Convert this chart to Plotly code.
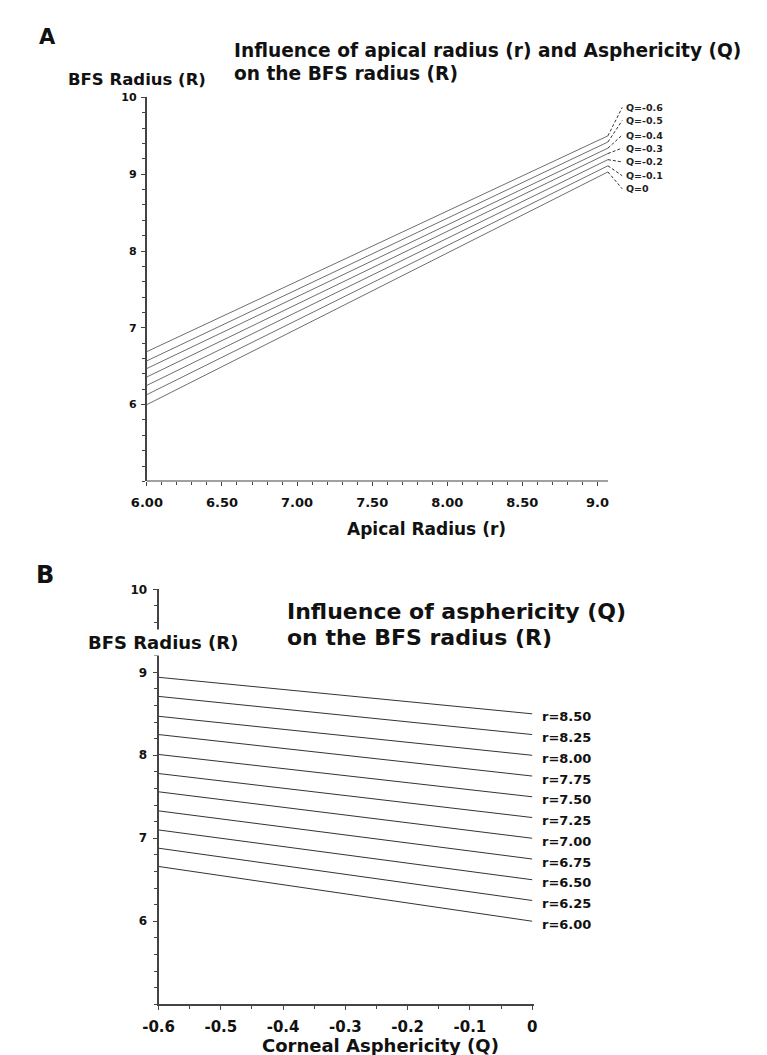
import plotly.graph_objects as go

# ---------------- data : panel A ----------------
apical_r_ends = [6.0, 9.07]
q_labels_A = ["Q=0", "Q=-0.1", "Q=-0.2", "Q=-0.3", "Q=-0.4", "Q=-0.5", "Q=-0.6"]
bfs_at_r6 = [6.00, 6.13, 6.25, 6.36, 6.47, 6.57, 6.69]
bfs_at_rend = [9.03, 9.11, 9.19, 9.27, 9.34, 9.42, 9.50]
xticks_A = [6.0, 6.5, 7.0, 7.5, 8.0, 8.5, 9.0]
xticktext_A = ["6.00", "6.50", "7.00", "7.50", "8.00", "8.50", "9.0"]
yticks_A = [6, 7, 8, 9, 10]

# ---------------- data : panel B ----------------
asph_q_ends = [-0.6, 0.0]
r_labels_B = ["r=8.50", "r=8.25", "r=8.00", "r=7.75", "r=7.50", "r=7.25",
              "r=7.00", "r=6.75", "r=6.50", "r=6.25", "r=6.00"]
bfs_at_qm06 = [8.94, 8.71, 8.47, 8.25, 8.01, 7.78, 7.56, 7.33, 7.10, 6.88, 6.66]
bfs_at_q0 = [8.50, 8.25, 8.00, 7.75, 7.50, 7.25, 7.00, 6.75, 6.50, 6.25, 6.00]
xticks_B = [-0.6, -0.5, -0.4, -0.3, -0.2, -0.1, 0.0]
xticktext_B = ["-0.6", "-0.5", "-0.4", "-0.3", "-0.2", "-0.1", "0"]
yticks_B = [6, 7, 8, 9, 10]

# ---------------- layout constants ----------------
W, H = 767, 1055
FONT = "DejaVu Sans"
# label anchor positions for panel A (data coords)
labA_x = 9.175
labA_y = [8.81, 8.98, 9.16, 9.34, 9.51, 9.70, 9.87]

def px_x(p):
    return p / W

def px_y(p):
    return 1 - p / H

fig = go.Figure()

# panel A lines
for lab, y0, y1 in zip(q_labels_A, bfs_at_r6, bfs_at_rend):
    fig.add_trace(go.Scatter(x=apical_r_ends, y=[y0, y1], mode="lines",
                             line=dict(color="#6e6e6e", width=1),
                             xaxis="x", yaxis="y", showlegend=False, name=lab,
                             hoverinfo="skip"))
# leader lines + labels panel A
for lab, y1, ly in zip(q_labels_A, bfs_at_rend, labA_y):
    fig.add_trace(go.Scatter(x=[apical_r_ends[-1], labA_x - 0.01], y=[y1, ly], mode="lines",
                             line=dict(color="#333", width=1, dash="3px,2px"),
                             xaxis="x", yaxis="y", showlegend=False, hoverinfo="skip"))
    fig.add_annotation(x=labA_x, y=ly, xref="x", yref="y", text=lab, showarrow=False,
                       xanchor="left", yanchor="middle",
                       font=dict(family=FONT, size=9.5, color="#222", weight="bold"))

# panel B lines
for lab, y0, y1 in zip(r_labels_B, bfs_at_qm06, bfs_at_q0):
    fig.add_trace(go.Scatter(x=asph_q_ends, y=[y0, y1], mode="lines",
                             line=dict(color="#333", width=1),
                             xaxis="x2", yaxis="y2", showlegend=False, name=lab,
                             hoverinfo="skip"))
    fig.add_annotation(x=1.015, y=y1, xref="x2 domain", yref="y2", text=lab, showarrow=False,
                       xanchor="left", yanchor="middle", yshift=-3,
                       font=dict(family=FONT, size=13, color="#111", weight="bold"))

# axis domains (pixels)
xA0, xA1 = 126, 126 + 3.3 * 154
yA_top, yA_bot = 83, 469.5
xB0, xB1 = 138, 523
yB_top, yB_bot = 578.2, 995.8

tickfontA_x = dict(family=FONT, size=13, color="#111", weight="bold")
tickfontA_y = dict(family=FONT, size=11, color="#111", weight="bold")

fig.update_layout(
    width=W, height=H, margin=dict(l=0, r=0, t=0, b=0),
    paper_bgcolor="white", plot_bgcolor="white", showlegend=False,
    xaxis=dict(domain=[px_x(xA0), px_x(xA1)], range=[6.0, 9.3], anchor="y",
               showline=False, showgrid=False, zeroline=False,
               tickmode="array", tickvals=xticks_A, ticktext=xticktext_A,
               ticks="outside", ticklen=4, tickwidth=1, tickcolor="#444",
               tickfont=tickfontA_x, ticklabelstandoff=5,
               minor=dict(tickmode="array",
                          tickvals=[6.1, 6.2, 6.3, 6.4, 6.6, 6.7, 6.8, 6.9, 7.1, 7.2, 7.3, 7.4,
                                    7.6, 7.7, 7.8, 7.9, 8.1, 8.2, 8.3, 8.4, 8.6, 8.7, 8.8, 8.9],
                          ticks="outside", ticklen=3, tickcolor="#444")),
    yaxis=dict(domain=[px_y(yA_bot), px_y(yA_top)], range=[5, 10], anchor="x",
               showline=True, linecolor="#444", linewidth=2, showgrid=False, zeroline=False,
               tickmode="array", tickvals=yticks_A,
               ticks="outside", ticklen=4, tickwidth=1, tickcolor="#444",
               tickfont=tickfontA_y, ticklabelstandoff=2,
               minor=dict(dtick=0.2, tick0=5, ticks="outside", ticklen=3, tickcolor="#444")),
    xaxis2=dict(domain=[px_x(xB0), px_x(xB1)], range=[-0.6, 0.003], anchor="y2",
                showline=True, linecolor="#444", linewidth=2, showgrid=False, zeroline=False,
                tickmode="array", tickvals=xticks_B, ticktext=xticktext_B,
                ticks="outside", ticklen=4, tickwidth=1, tickcolor="#444",
                tickfont=dict(family=FONT, size=15, color="#111", weight="bold"),
                ticklabelstandoff=4,
                minor=dict(dtick=0.05, tick0=-0.6, ticks="outside", ticklen=3, tickcolor="#444")),
    yaxis2=dict(domain=[px_y(yB_bot), px_y(yB_top)], range=[5, 10], anchor="x2",
                showline=True, linecolor="#444", linewidth=2, showgrid=False, zeroline=False,
                tickmode="array", tickvals=yticks_B,
                ticks="outside", ticklen=4, tickwidth=1, tickcolor="#444",
                tickfont=dict(family=FONT, size=12, color="#111", weight="bold"),
                ticklabelstandoff=3,
                minor=dict(dtick=0.2, tick0=5, ticks="outside", ticklen=3, tickcolor="#444")),
)

# custom x axis line for panel A (stops at the data end)
fig.add_shape(type="line", xref="x", yref="y", x0=6.0, x1=apical_r_ends[-1], y0=5, y1=5,
              line=dict(color="#444", width=2))

def txt(x, y, s, size, xanchor="left", bg=None):
    fig.add_annotation(x=px_x(x), y=px_y(y), xref="paper", yref="paper", text=s,
                       showarrow=False, xanchor=xanchor, yanchor="middle", align="left",
                       bgcolor=bg, borderpad=2,
                       font=dict(family=FONT, size=size, color="#111", weight="bold"))

# panel letters
txt(12, 22, "A", 21)
txt(9, 564, "B", 24)
# panel A texts
txt(212, 36, "Influence of apical radius (r) and Asphericity (Q)", 18.6)
txt(212, 59, "on the BFS radius (R)", 18.6)
txt(42, 65, "BFS Radius (R)", 16.5)
txt(328, 517, "Apical Radius (r)", 17)
# panel B texts
txt(267, 600, "Influence of asphericity (Q)", 22)
txt(267, 627, "on the BFS radius (R)", 22)
txt(143, 632, "BFS Radius (R)", 18, xanchor="center", bg="white")
txt(366, 1037, "Corneal Asphericity (Q)", 18, xanchor="center")

fig.write_html("out.html")
